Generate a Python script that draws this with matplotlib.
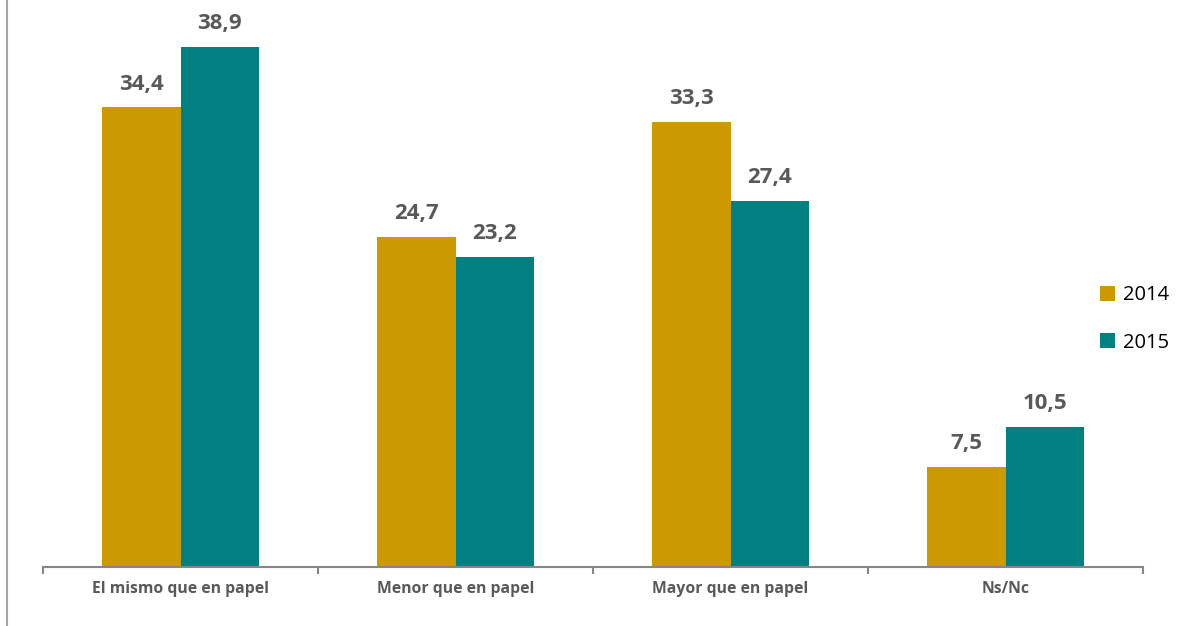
import matplotlib.pyplot as plt
import numpy as np
from matplotlib.patches import Patch
from matplotlib.lines import Line2D

categories = ["El mismo que en papel", "Menor que en papel", "Mayor que en papel", "Ns/Nc"]
years = ["2014", "2015"]
values_2014 = [34.4, 24.7, 33.3, 7.5]
values_2015 = [38.9, 23.2, 27.4, 10.5]

gold = "#CC9900"
teal = "#008080"
grey = "#595959"

plt.rcParams['font.family'] = ['Open Sans', 'DejaVu Sans']

fig = plt.figure(figsize=(11.99, 6.26), dpi=100)
W, H = 1199, 626
ax = fig.add_axes([43 / W, (H - 567) / H, 1100 / W, 567 / H])

x = np.arange(len(categories))
bw = 0.284
b1 = ax.bar(x - bw / 2, values_2014, bw, color=gold, label=years[0])
b2 = ax.bar(x + bw / 2, values_2015, bw, color=teal, label=years[1])

for bars in (b1, b2):
    for rect in bars:
        h = rect.get_height()
        ax.annotate(f"{h:.1f}".replace(".", ","),
                    (rect.get_x() + rect.get_width() / 2, h),
                    xytext=(0, 12.5), textcoords="offset points",
                    ha="center", va="baseline", fontsize=16, fontweight="bold", color=grey)

ax.set_xlim(-0.5, 3.5)
ax.set_ylim(0, 42.4)
ax.set_yticks([])
for s in ["top", "right", "left"]:
    ax.spines[s].set_visible(False)
ax.spines["bottom"].set_color("#868686")
ax.spines["bottom"].set_linewidth(1.5)

# category labels without ticks at centre, boundary ticks between groups
ax.set_xticks(x)
ax.set_xticklabels(categories, fontsize=11.3, fontweight="bold", color=grey)
ax.tick_params(axis="x", length=0, pad=10)
ax.set_xticks(np.arange(-0.5, 4.0, 1.0), minor=True)
ax.tick_params(axis="x", which="minor", length=5, width=1.5, color="#868686")

handles = [Patch(facecolor=gold), Patch(facecolor=teal)]
fig.legend(handles, years, loc="center left", bbox_to_anchor=(1082 / W, 1 - 319 / H),
           frameon=False, fontsize=14.5, handlelength=0.75, handleheight=0.75,
           handletextpad=0.4, labelspacing=1.35, labelcolor="black")

# outer frame line at the left
fig.add_artist(Line2D([7 / W, 7 / W], [0, 1], color="#A6A6A6", linewidth=1.5,
                      transform=fig.transFigure))

fig.savefig("out.png", dpi=100)
